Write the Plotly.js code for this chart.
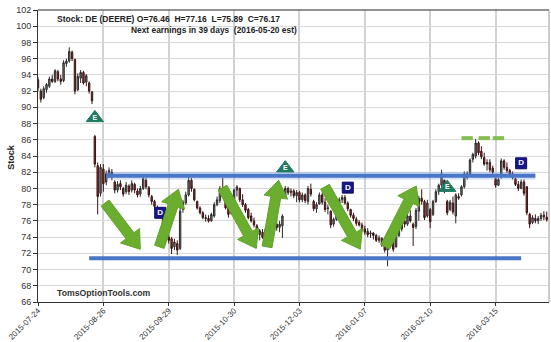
<!DOCTYPE html>
<html>
<head>
<meta charset="utf-8">
<script src="https://cdn.plot.ly/plotly-3.0.1.min.js"></script>
<style>html,body{margin:0;padding:0;background:#fff;}#chart{width:551px;height:342px;}</style>
</head>
<body>
<div id="chart"></div>
<script>
// ---- Trading days (categories) ----
const dates = [
'2015-07-24','2015-07-27','2015-07-28','2015-07-29','2015-07-30','2015-07-31',
'2015-08-03','2015-08-04','2015-08-05','2015-08-06','2015-08-07','2015-08-10','2015-08-11','2015-08-12','2015-08-13','2015-08-14',
'2015-08-17','2015-08-18','2015-08-19','2015-08-20','2015-08-21','2015-08-24','2015-08-25','2015-08-26','2015-08-27','2015-08-28','2015-08-31',
'2015-09-01','2015-09-02','2015-09-03','2015-09-04','2015-09-08','2015-09-09','2015-09-10','2015-09-11','2015-09-14','2015-09-15','2015-09-16',
'2015-09-17','2015-09-18','2015-09-21','2015-09-22','2015-09-23','2015-09-24','2015-09-25','2015-09-28','2015-09-29','2015-09-30',
'2015-10-01','2015-10-02','2015-10-05','2015-10-06','2015-10-07','2015-10-08','2015-10-09','2015-10-12','2015-10-13','2015-10-14','2015-10-15','2015-10-16',
'2015-10-19','2015-10-20','2015-10-21','2015-10-22','2015-10-23','2015-10-26','2015-10-27','2015-10-28','2015-10-29','2015-10-30',
'2015-11-02','2015-11-03','2015-11-04','2015-11-05','2015-11-06','2015-11-09','2015-11-10','2015-11-11','2015-11-12','2015-11-13',
'2015-11-16','2015-11-17','2015-11-18','2015-11-19','2015-11-20','2015-11-23','2015-11-24','2015-11-25','2015-11-27','2015-11-30',
'2015-12-01','2015-12-02','2015-12-03','2015-12-04','2015-12-07','2015-12-08','2015-12-09','2015-12-10','2015-12-11','2015-12-14','2015-12-15',
'2015-12-16','2015-12-17','2015-12-18','2015-12-21','2015-12-22','2015-12-23','2015-12-24','2015-12-28','2015-12-29','2015-12-30','2015-12-31',
'2016-01-04','2016-01-05','2016-01-06','2016-01-07','2016-01-08','2016-01-11','2016-01-12','2016-01-13','2016-01-14','2016-01-15',
'2016-01-19','2016-01-20','2016-01-21','2016-01-22','2016-01-25','2016-01-26','2016-01-27','2016-01-28','2016-01-29',
'2016-02-01','2016-02-02','2016-02-03','2016-02-04','2016-02-05','2016-02-08','2016-02-09','2016-02-10','2016-02-11','2016-02-12',
'2016-02-16','2016-02-17','2016-02-18','2016-02-19','2016-02-22','2016-02-23','2016-02-24','2016-02-25','2016-02-26','2016-02-29',
'2016-03-01','2016-03-02','2016-03-03','2016-03-04','2016-03-07','2016-03-08','2016-03-09','2016-03-10','2016-03-11','2016-03-14','2016-03-15',
'2016-03-16','2016-03-17','2016-03-18','2016-03-21','2016-03-22','2016-03-23','2016-03-24','2016-03-28','2016-03-29','2016-03-30','2016-03-31',
'2016-04-01','2016-04-04','2016-04-05','2016-04-06','2016-04-07','2016-04-08','2016-04-11'
];

// ---- OHLC series ----
const open = [
93.4,92.0,91.2,92.2,92.6,93.5,93.2,94.4,93.5,93.3,
95.4,95.7,96.8,95.9,92.2,93.6,94.3,93.1,93.0,91.9,
86.4,82.8,79.4,82.4,80.8,81.8,82.0,80.8,79.8,80.6,
80.0,79.6,80.3,79.8,80.5,79.7,79.3,80.0,81.0,80.1,
79.0,78.4,77.6,77.3,76.8,75.4,74.0,73.8,72.8,73.2,
72.6,77.4,78.2,79.2,81.0,79.9,78.4,77.6,77.0,76.4,
76.3,76.0,76.6,78.0,78.5,79.8,79.4,77.6,76.9,78.2,
79.8,80.0,78.6,78.0,77.4,76.6,76.0,75.4,74.3,74.6,
74.2,74.8,75.0,74.9,75.6,75.2,75.4,79.0,80.0,79.5,
79.7,79.1,79.5,78.6,79.2,78.4,79.9,78.4,77.5,78.1,
79.2,78.3,77.5,77.2,75.6,76.2,77.8,78.6,78.9,78.2,
77.4,76.7,76.2,75.8,75.5,75.0,74.7,74.4,74.5,74.2,
73.6,73.8,73.2,72.4,72.9,73.6,72.8,74.2,75.0,76.0,
75.6,76.6,75.6,75.3,77.2,78.8,78.4,76.6,77.4,76.8,
78.4,79.6,80.4,81.0,78.4,77.4,78.2,76.6,79.0,79.2,
80.2,81.8,81.8,83.6,84.0,85.6,84.6,83.8,83.0,83.2,
82.5,81.2,80.4,81.4,83.4,82.6,82.2,81.8,81.2,80.5,
80.0,80.8,80.2,76.8,75.8,76.3,76.0,76.3,76.7,76.46
];
const high = [
93.7,92.3,92.6,93.0,93.8,94.0,94.7,94.6,94.0,95.8,
96.0,97.4,97.0,96.0,94.2,94.6,94.5,94.1,93.2,92.0,
86.6,83.2,83.0,83.0,82.2,82.6,82.4,81.0,80.9,81.0,
80.2,80.8,80.5,81.0,80.7,80.0,80.3,81.6,81.3,80.3,
79.2,78.6,77.9,77.6,77.0,75.6,74.3,74.0,73.8,73.6,
77.8,78.6,79.6,81.4,81.3,80.0,78.5,77.8,77.2,76.8,
76.7,77.0,78.3,79.0,80.3,81.3,79.6,77.9,78.3,80.0,
80.4,80.1,79.3,78.2,77.6,77.0,76.4,75.6,75.0,75.0,
75.2,75.4,75.6,76.0,76.3,76.0,76.8,80.3,80.2,80.0,
79.9,79.8,79.7,79.5,79.4,80.3,80.6,78.6,78.3,79.5,
79.5,78.8,78.0,77.3,76.4,78.0,78.9,79.2,79.2,78.4,
77.5,77.0,76.5,76.1,75.8,75.4,75.1,74.8,74.6,74.4,
74.2,74.0,73.5,73.2,74.1,73.8,74.7,75.4,76.4,76.8,
76.9,77.3,75.8,77.6,79.1,79.9,78.6,78.6,77.6,78.6,
79.9,80.6,82.3,81.1,78.6,78.6,79.0,79.4,79.4,80.4,
82.1,82.1,83.7,84.4,86.1,85.8,85.2,84.4,83.6,83.6,
82.8,81.3,81.3,83.7,83.6,83.2,82.4,82.1,81.3,80.9,
81.1,81.1,80.3,77.0,76.7,76.8,76.6,77.0,77.2,77.16
];
const low = [
92.0,90.6,91.0,91.8,92.4,93.0,93.0,93.2,92.8,93.1,
95.0,95.5,95.7,91.6,92.0,93.0,92.8,92.6,91.7,90.4,
82.6,76.8,79.0,79.6,80.4,81.3,81.0,79.4,79.5,79.8,
79.0,79.3,79.2,79.5,79.4,78.9,79.0,79.8,79.9,78.9,
78.0,77.4,76.8,76.4,75.2,73.8,73.2,71.9,72.4,71.8,
72.4,77.0,78.0,79.0,79.6,78.4,77.4,76.8,76.2,75.9,
75.8,75.9,76.4,77.8,78.2,79.4,77.4,76.4,76.8,78.0,
79.0,78.3,77.7,77.0,76.2,75.8,75.2,74.0,73.6,73.8,
74.0,74.2,74.4,74.6,74.8,74.6,73.9,78.8,79.2,79.0,
78.8,78.3,78.3,78.3,78.2,78.0,79.0,77.2,77.0,78.0,
78.0,77.1,76.8,75.1,75.3,76.0,77.5,78.2,78.0,77.2,
76.4,76.0,75.4,75.3,74.7,74.3,74.0,73.9,73.7,73.4,
73.3,72.8,72.1,70.4,72.7,72.2,72.7,74.0,74.7,75.2,
75.4,75.8,72.9,75.0,76.0,78.0,76.1,76.4,75.1,76.6,
78.2,79.2,80.2,79.4,76.7,77.2,76.8,75.7,78.6,79.0,
80.0,81.1,81.6,83.2,83.7,84.1,83.6,82.8,82.2,82.0,
81.7,80.1,80.3,81.2,82.3,81.9,81.5,81.1,80.3,79.7,
79.9,79.1,76.7,75.1,75.6,75.7,75.6,76.0,76.1,75.89
];
const close = [
92.4,91.0,92.3,92.8,93.5,93.2,94.5,93.5,93.2,95.5,
95.7,96.9,96.0,92.0,93.8,94.3,93.0,93.9,92.0,90.8,
83.0,79.0,82.6,80.6,81.8,82.2,81.4,79.8,80.5,80.2,
79.3,80.4,79.6,80.6,79.8,79.2,80.0,81.2,80.2,79.2,
78.4,77.8,77.2,77.0,75.6,74.2,73.6,72.6,73.4,72.4,
77.2,78.3,79.2,81.0,80.0,78.6,77.6,77.0,76.4,76.3,
76.0,76.8,78.0,78.6,80.0,79.6,77.6,76.8,78.1,79.8,
80.2,78.6,78.0,77.3,76.4,76.0,75.5,74.3,74.8,74.0,
74.9,75.0,74.8,75.8,75.2,75.6,76.6,80.0,79.5,79.7,
79.1,79.5,78.6,79.2,78.5,80.0,79.3,77.5,78.0,79.2,
78.3,77.4,77.6,75.5,76.2,77.8,78.6,78.9,78.2,77.5,
76.7,76.3,75.7,75.5,74.9,74.6,74.3,74.5,74.2,73.6,
73.9,73.0,72.4,72.9,73.8,72.5,74.4,75.2,76.1,75.6,
76.6,76.0,75.2,77.3,78.8,78.4,76.4,78.2,75.9,78.4,
79.6,80.4,81.8,79.6,77.0,78.3,77.1,79.2,78.8,80.2,
81.8,81.4,83.5,84.2,85.6,84.4,83.9,83.0,83.2,82.3,
82.0,80.4,81.1,83.4,82.6,82.2,81.8,81.3,80.5,80.0,
80.8,79.4,77.0,75.6,76.4,76.0,76.3,76.7,76.5,76.17
];

// ---- Axis ticks ----
const xTickLabels = ['2015-07-24','2015-08-26','2015-09-29','2015-10-30','2015-12-03','2016-01-07','2016-02-10','2016-03-15'];
const yTicks = [66,68,70,72,74,76,78,80,82,84,86,88,90,92,94,96,98,100,102];

// ---- Event markers ----
const earningsDates = ['2015-08-21','2015-11-25','2016-02-19'];
const earningsY = [88.7, 82.5, 80.1];
const dividendDates = ['2015-09-24','2015-12-29','2016-03-29'];
const dividendY = [77.0, 80.1, 83.1];

// ---- Drawn support / resistance lines ----
const resistDates = ['2015-08-27','2016-04-05'];
const resistLevel = [81.55, 81.55];
const supportDates = ['2015-08-19','2016-03-29'];
const supportLevel = [71.38, 71.38];
const topDashDates = ['2016-02-26','2016-03-03',null,'2016-03-07','2016-03-11',null,'2016-03-14','2016-03-18'];
const topDashLevel = [86.2,86.2,null,86.2,86.2,null,86.2,86.2];

// ---- Drawn arrows: tail [index, price] and tip [index, price] ----
const arrowsFrom = [[23.6,78.2],[42.7,72.8],[64.9,80.1],[80.6,72.8],[101.0,80.2],[122.2,72.8]];
const arrowsTo   = [[36.0,72.5],[49.4,79.9],[76.8,72.6],[84.7,81.0],[113.4,72.5],[133.1,80.3]];

// layout geometry
const W = 551, H = 342, M = {l:38, r:2, t:10, b:40};
const xRange = [0, 179.8], yRange = [66, 102];
const kx = (W - M.l - M.r) / (xRange[1] - xRange[0]);
const ky = (H - M.t - M.b) / (yRange[1] - yRange[0]);

function arrowPath(from, to) {
  const tx = from[0]*kx, ty = -from[1]*ky, px = to[0]*kx, py = -to[1]*ky;
  const dx = px - tx, dy = py - ty, len = Math.hypot(dx, dy);
  const ux = dx/len, uy = dy/len, nx = -uy, ny = ux;
  const sh = 5, hh = 12, hl = 17;
  const bx = px - ux*hl, by = py - uy*hl;
  const pts = [
    [tx + nx*sh, ty + ny*sh], [bx + nx*sh, by + ny*sh], [bx + nx*hh, by + ny*hh],
    [px, py], [bx - nx*hh, by - ny*hh], [bx - nx*sh, by - ny*sh], [tx - nx*sh, ty - ny*sh]
  ];
  return 'M' + pts.map(p => (p[0]/kx).toFixed(3) + ',' + (-p[1]/ky).toFixed(3)).join(' L') + ' Z';
}

const traces = [
  {
    type: 'candlestick', x: dates, open: open, high: high, low: low, close: close,
    increasing: {line: {color: '#2a2a2a', width: 1}, fillcolor: '#7f7f7f'},
    decreasing: {line: {color: '#3a1414', width: 1}, fillcolor: '#a32a2a'},
    whiskerwidth: 0, hoverinfo: 'skip', showlegend: false
  },
  {type: 'scatter', mode: 'lines', x: resistDates, y: resistLevel, line: {color: 'rgba(120,160,225,0.3)', width: 8}, hoverinfo: 'skip'},
  {type: 'scatter', mode: 'lines', x: resistDates, y: resistLevel, line: {color: '#4a76c8', width: 4}, hoverinfo: 'skip'},
  {type: 'scatter', mode: 'lines', x: supportDates, y: supportLevel, line: {color: '#4a76c8', width: 4}, hoverinfo: 'skip'},
  {type: 'scatter', mode: 'lines', x: topDashDates, y: topDashLevel, connectgaps: false, line: {color: '#86bd55', width: 4}, hoverinfo: 'skip'},
  {
    type: 'scatter', mode: 'markers+text', x: earningsDates, y: earningsY,
    marker: {symbol: 'triangle-up', size: 15, color: '#1f7a62', line: {color: '#1f7a62', width: 1}},
    text: ['E','E','E'], textposition: 'middle center',
    textfont: {family: 'Liberation Sans, Arial', size: 7, color: '#ffffff', weight: 'bold'}, hoverinfo: 'skip'
  },
  {
    type: 'scatter', mode: 'markers+text', x: dividendDates, y: dividendY,
    marker: {symbol: 'square', size: 11, color: '#16168c', line: {color: '#0c0c60', width: 1}},
    text: ['D','D','D'], textposition: 'middle center',
    textfont: {family: 'Liberation Sans, Arial', size: 8, color: '#ffffff', weight: 'bold'}, hoverinfo: 'skip'
  }
];

const shapes = arrowsFrom.map((f, i) => ({
  type: 'path', xref: 'x', yref: 'y', layer: 'above',
  path: arrowPath(f, arrowsTo[i]),
  fillcolor: '#6aad2f', line: {color: '#62a22a', width: 1}
}));
shapes.push({type: 'line', xref: 'paper', yref: 'paper', x0: 0, x1: 1, y0: 1, y1: 1, line: {color: '#6e6e6e', width: 1.5}, layer: 'above'});
shapes.push({type: 'line', xref: 'paper', yref: 'paper', x0: 1, x1: 1, y0: 0, y1: 1, line: {color: '#9a9a9a', width: 1}, layer: 'above'});

const layout = {
  width: W, height: H,
  margin: M,
  paper_bgcolor: '#ffffff', plot_bgcolor: '#ffffff',
  showlegend: false,
  font: {family: 'Liberation Sans, Arial, sans-serif', size: 9, color: '#333'},
  xaxis: {
    type: 'category', range: xRange, rangeslider: {visible: false},
    tickmode: 'array', tickvals: xTickLabels, ticktext: xTickLabels, tickangle: -45,
    ticks: 'outside', ticklen: 3, tickcolor: '#333', ticklabelstandoff: -3,
    showgrid: true, gridcolor: '#d2d2d2', gridwidth: 2,
    showline: true, linecolor: '#333', linewidth: 1, automargin: false,
    tickfont: {size: 8, color: '#333'}, fixedrange: true
  },
  yaxis: {
    range: yRange, tickmode: 'array', tickvals: yTicks,
    ticks: 'outside', ticklen: 4, tickcolor: '#333',
    showgrid: true, gridcolor: '#d9d9d9', gridwidth: 1,
    showline: true, linecolor: '#333', linewidth: 1, zeroline: false,
    tickfont: {size: 9, color: '#333'}, fixedrange: true
  },
  shapes: shapes,
  annotations: [
    {xref: 'paper', yref: 'paper', x: (55 - M.l)/(W - M.l - M.r), y: 1 - (19 - M.t)/(H - M.t - M.b),
     xanchor: 'left', yanchor: 'middle', showarrow: false,
     text: '<b>Stock: DE (DEERE) O=76.46  H=77.16  L=75.89  C=76.17</b>',
     font: {size: 8.5, color: '#222'}},
    {xref: 'paper', yref: 'paper', x: (129 - M.l)/(W - M.l - M.r), y: 1 - (30 - M.t)/(H - M.t - M.b),
     xanchor: 'left', yanchor: 'middle', showarrow: false,
     text: '<b>Next earnings in 39 days  (2016-05-20 est)</b>',
     font: {size: 8.4, color: '#222'}},
    {xref: 'paper', yref: 'paper', x: (55 - M.l)/(W - M.l - M.r), y: 1 - (293 - M.t)/(H - M.t - M.b),
     xanchor: 'left', yanchor: 'middle', showarrow: false,
     text: '<b>TomsOptionTools.com</b>',
     font: {size: 8.7, color: '#333'}},
    {xref: 'paper', yref: 'paper', x: (10.7 - M.l)/(W - M.l - M.r), y: 1 - (157 - M.t)/(H - M.t - M.b),
     xanchor: 'center', yanchor: 'middle', showarrow: false, textangle: -90,
     text: '<b>Stock</b>', font: {size: 9, color: '#222'}}
  ]
};

Plotly.newPlot('chart', traces, layout, {staticPlot: true, displayModeBar: false});
</script>
</body>
</html>
